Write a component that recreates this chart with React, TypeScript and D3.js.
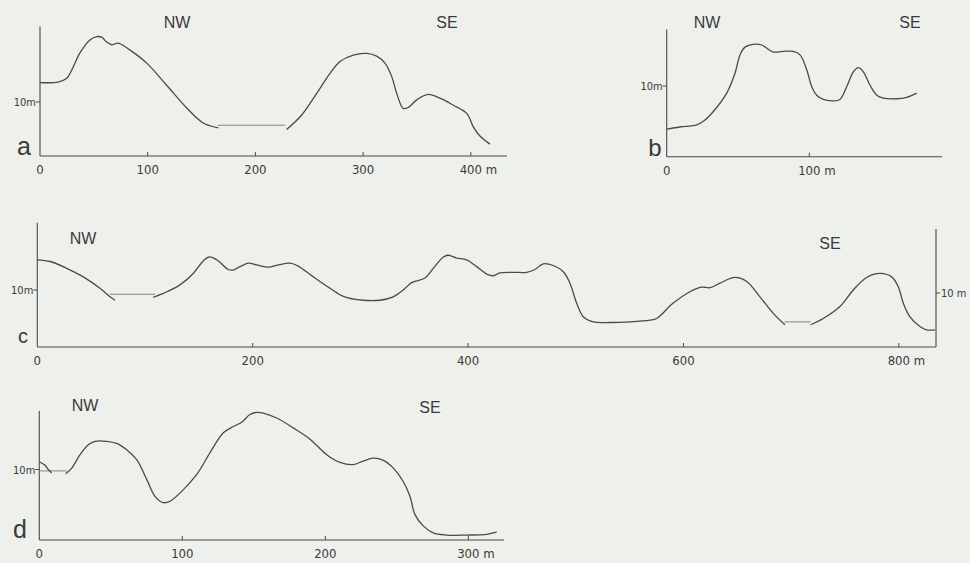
import React from "react";
import * as d3 from "d3";

// Topographic cross-sections (distance in m, elevation in m)
type Pt = [number, number];

// Profile a
const aSegWest: Pt[] = [
  [0, 13.6], [16.7, 13.7], [24.8, 14.4], [29.4, 15.9], [37.1, 19.1], [46.4, 21.5],
  [52.6, 22.1], [57.3, 22.0], [61.9, 21.1], [66.6, 20.6], [72.7, 20.9], [83.6, 19.6],
  [99.1, 17.2], [117.6, 13.1], [136.2, 8.9], [151.6, 6.1], [165.6, 5.2],
];
const aSegEast: Pt[] = [
  [229, 4.9], [243, 7.6], [256.9, 11.6], [269.3, 15.3], [278.6, 17.5], [290.9, 18.7],
  [303.3, 19.0], [312.6, 18.5], [320.3, 17.2], [326.6, 14.7], [331.2, 11.6], [337.3, 8.8],
  [342, 9.0], [349.8, 10.4], [360.5, 11.4], [371.4, 10.7], [383.8, 9.4], [396.2, 7.9],
  [402.3, 5.4], [408.5, 3.7], [417.8, 2.2],
];
const aLevels: [number, number, number][] = [[165, 228, 5.7]];
const aTicks = [0, 100, 200, 300, 400];

// Profile b
const bSeg: Pt[] = [
  [0, 3.9], [9.3, 4.2], [21, 4.5], [25.7, 5.0], [32.7, 6.4], [42.1, 9.0], [47.9, 11.8],
  [51.4, 14.4], [54.9, 15.5], [60.7, 15.9], [66.6, 15.8], [71.2, 15.2], [74.8, 14.8],
  [81.8, 14.9], [88.8, 14.9], [93.5, 14.4], [98.2, 12.3], [101.7, 9.9], [105.2, 8.7],
  [109.8, 8.1], [116.8, 7.9], [121.5, 8.1], [126.2, 9.9], [130.9, 12.0], [134.4, 12.6],
  [137.9, 12.0], [142.6, 10.1], [147.3, 8.7], [151.9, 8.3], [161.3, 8.2], [168.3, 8.4],
  [175.3, 9.0],
];
const bTicks = [0, 100];

// Profile c
const cSegWest: Pt[] = [
  [0, 15.3], [11.8, 15.0], [27.3, 13.8], [42.7, 12.3], [58.2, 10.3], [67.5, 8.8], [72.1, 8.2],
];
const cSegMid: Pt[] = [
  [107.7, 8.7], [117, 9.4], [132.5, 10.9], [144.8, 12.9], [154.1, 15.1], [159.7, 15.8],
  [166.6, 15.3], [177.3, 13.6], [182, 13.5], [188.2, 14.1], [195.9, 14.7], [203.7, 14.4],
  [214.5, 14.0], [223.8, 14.4], [234.6, 14.7], [242.3, 14.2], [256.3, 12.3], [271.8, 10.3],
  [284.1, 8.9], [302.7, 8.2], [318.2, 8.2], [330.5, 8.8], [339.8, 10.0], [347.6, 11.3],
  [360, 12.1], [367.7, 13.8], [377, 15.8], [381.6, 16.1], [389.4, 15.6], [398.7, 15.3],
  [408, 14.1], [417.3, 12.8], [423.4, 12.5], [429.6, 13.0], [442, 13.1], [454.4, 13.1],
  [462.1, 13.6], [469.8, 14.6], [479.1, 14.3], [488.4, 13.2], [494.6, 11.2], [500.8, 7.7],
  [507, 5.3], [516.2, 4.4], [531.8, 4.3], [550.4, 4.4], [568.9, 4.7], [575.1, 5.0],
  [590.5, 7.7], [606, 9.7], [616.9, 10.5], [624.6, 10.4], [633.9, 11.2], [647.8, 12.2],
  [658.7, 11.5], [671, 8.8], [683.4, 5.9], [694.2, 3.9],
];
const cSegEast: Pt[] = [
  [718.1, 3.9], [729.8, 5.0], [745.3, 7.1], [757.7, 10.0], [770.1, 12.2], [782.4, 12.9],
  [793.3, 12.3], [799.4, 10.6], [804.1, 7.7], [810.3, 5.3], [819.6, 3.6], [825.8, 3.0],
  [833.5, 3.0],
];
const cLevels: [number, number, number][] = [[67.5, 109.3, 9.25], [694, 718.1, 4.4]];
const cTicks = [0, 200, 400, 600, 800];

// Profile d
const dSegWest: Pt[] = [[0, 11.1], [4.0, 10.6], [6.3, 10.0], [8.7, 9.5]];
const dSegEast: Pt[] = [
  [18.5, 9.4], [22.7, 10.2], [28.5, 12.1], [34.3, 13.5], [39, 14.0], [47.1, 14.0],
  [54.1, 13.7], [61.1, 12.8], [68.1, 11.4], [75.1, 8.6], [80.9, 6.2], [86.7, 5.3],
  [91.4, 5.5], [99.6, 6.9], [110.1, 9.3], [119.4, 12.4], [128.7, 15.2], [135.7, 16.1],
  [141.5, 16.7], [147.3, 17.8], [152, 18.1], [156.6, 18.0], [166, 17.3], [177.6, 15.9],
  [189.3, 14.3], [201, 12.1], [210.3, 11.0], [219.6, 10.7], [226.6, 11.2], [233.6, 11.6],
  [240.6, 11.3], [247.6, 10.2], [254.5, 8.3], [259.2, 6.2], [262.7, 3.6], [268.5, 2.0],
  [275.5, 1.0], [284.9, 0.7], [298.9, 0.7], [312.9, 0.8], [319.9, 1.1],
];
const dLevels: [number, number, number][] = [[0, 19.2, 9.8]];
const dTicks = [0, 100, 200, 300];

const W = 970;
const H = 563;
const BG = "#eef0ec";
const INK = "#4a4a4a";
const TEXT = "#3a3a3a";
const TICK_FONT = "'Liberation Sans Narrow', 'DejaVu Sans Condensed', 'Liberation Sans', sans-serif";
const LABEL_FONT = "'Liberation Sans', 'DejaVu Sans', sans-serif";

interface PanelProps {
  letter: string;
  letterPos: [number, number, number];
  segments: Pt[][];
  levels: [number, number, number][];
  ticks: number[];
  xDomain: [number, number];
  xRange: [number, number];
  yDomain: [number, number];
  yRange: [number, number];
  axisEnd: number;
  nw: [number, number];
  se: [number, number];
  rightAxis?: { x: number; top: number };
}

function Panel(p: PanelProps) {
  const x = d3.scaleLinear().domain(p.xDomain).range(p.xRange);
  const y = d3.scaleLinear().domain(p.yDomain).range(p.yRange);
  const line = d3
    .line<Pt>()
    .x((d) => x(d[0]))
    .y((d) => y(d[1]))
    .curve(d3.curveCatmullRom.alpha(0.5));
  const x0 = x(0);
  const y0 = y(0);
  const yTop = y(p.yDomain[1]);
  const last = p.ticks[p.ticks.length - 1];
  return (
    <g>
      {/* axes */}
      <line x1={x0} x2={x0} y1={yTop} y2={y0} stroke={INK} strokeWidth={1.1} />
      <line x1={x0} x2={p.axisEnd} y1={y0} y2={y0} stroke={INK} strokeWidth={1.1} />
      {p.ticks.map((t) => (
        <g key={t}>
          {t > 0 && <line x1={x(t)} x2={x(t)} y1={y0} y2={y0 - 4} stroke={INK} strokeWidth={1} />}
          <text x={x(t)} y={y0 + 18} fontSize={13} textAnchor="middle" fill={TEXT} fontFamily={TICK_FONT}>
            {t}
          </text>
          {t === last && (
            <text x={x(t) + 15} y={y0 + 18} fontSize={13} fill={TEXT} fontFamily={TICK_FONT}>
              m
            </text>
          )}
        </g>
      ))}
      <line x1={x0 - 4} x2={x0} y1={y(10)} y2={y(10)} stroke={INK} strokeWidth={1} />
      <text x={x0 - 4} y={y(10) + 4} fontSize={11} textAnchor="end" fill={TEXT} fontFamily={TICK_FONT}>
        10m
      </text>
      {p.rightAxis && (
        <g>
          <line
            x1={p.rightAxis.x}
            x2={p.rightAxis.x}
            y1={p.rightAxis.top}
            y2={y0}
            stroke={INK}
            strokeWidth={1.1}
          />
          <line
            x1={p.rightAxis.x}
            x2={p.rightAxis.x + 4}
            y1={y(10) + 3}
            y2={y(10) + 3}
            stroke={INK}
            strokeWidth={1}
          />
          <text x={p.rightAxis.x + 5} y={y(10) + 7} fontSize={11} fill={TEXT} fontFamily={TICK_FONT}>
            10 m
          </text>
        </g>
      )}
      {/* water levels / gaps */}
      {p.levels.map(([a, b, e], i) => (
        <line key={i} x1={x(a)} x2={x(b)} y1={y(e)} y2={y(e)} stroke="#6a6a6a" strokeWidth={0.8} />
      ))}
      {/* terrain */}
      {p.segments.map((s, i) => (
        <path key={i} d={line(s) || ""} fill="none" stroke={INK} strokeWidth={1.3} strokeLinejoin="round" />
      ))}
      <text x={p.nw[0]} y={p.nw[1]} fontSize={16} textAnchor="middle" fill={TEXT} fontFamily={LABEL_FONT}>
        NW
      </text>
      <text x={p.se[0]} y={p.se[1]} fontSize={16} textAnchor="middle" fill={TEXT} fontFamily={LABEL_FONT}>
        SE
      </text>
      <text
        x={p.letterPos[0]}
        y={p.letterPos[1]}
        fontSize={p.letterPos[2]}
        textAnchor="middle"
        fill={TEXT}
        fontFamily={LABEL_FONT}
      >
        {p.letter}
      </text>
    </g>
  );
}

export default function App() {
  return (
    <svg
      width={W}
      height={H}
      style={{ position: "absolute", left: 0, top: 0, display: "block", background: BG }}
    >
      <rect width={W} height={H} fill={BG} />
      <Panel
        letter="a"
        letterPos={[24, 155, 25]}
        segments={[aSegWest, aSegEast]}
        levels={aLevels}
        ticks={aTicks}
        xDomain={[0, 435]}
        xRange={[40, 40 + 435 * 1.077]}
        yDomain={[0, 24]}
        yRange={[156, 156 - 24 * 5.4]}
        axisEnd={507}
        nw={[177, 28]}
        se={[447, 28]}
      />
      <Panel
        letter="b"
        letterPos={[655, 156, 24]}
        segments={[bSeg]}
        levels={[]}
        ticks={bTicks}
        xDomain={[0, 193]}
        xRange={[666.7, 666.7 + 193 * 1.426]}
        yDomain={[0, 18]}
        yRange={[156.7, 156.7 - 18 * 7.07]}
        axisEnd={942}
        nw={[707, 28]}
        se={[910, 28]}
      />
      <Panel
        letter="c"
        letterPos={[23, 343, 20]}
        segments={[cSegWest, cSegMid, cSegEast]}
        levels={cLevels}
        ticks={cTicks}
        xDomain={[0, 834.5]}
        xRange={[37.3, 936]}
        yDomain={[0, 21.8]}
        yRange={[347, 347 - 21.8 * 5.7]}
        axisEnd={936}
        nw={[83, 244]}
        se={[830, 249]}
        rightAxis={{ x: 936, top: 229 }}
      />
      <Panel
        letter="d"
        letterPos={[20, 538, 25]}
        segments={[dSegWest, dSegEast]}
        levels={dLevels}
        ticks={dTicks}
        xDomain={[0, 325]}
        xRange={[39.3, 39.3 + 325 * 1.43]}
        yDomain={[0, 18.3]}
        yRange={[540, 540 - 18.3 * 7.05]}
        axisEnd={504}
        nw={[85, 411]}
        se={[430, 413]}
      />
    </svg>
  );
}
